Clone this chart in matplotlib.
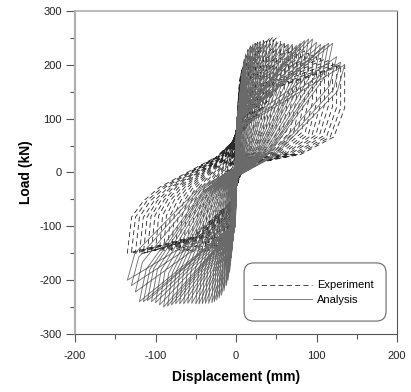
import matplotlib
matplotlib.use("Agg")
import matplotlib.pyplot as plt
from matplotlib.patches import FancyBboxPatch
from matplotlib.ticker import MultipleLocator

plt.rcParams['font.family'] = ['Liberation Sans', 'DejaVu Sans']
plt.rcParams['axes.unicode_minus'] = False

# Cycle amplitudes (mm)
amplitudes = [1, 2, 3, 4, 5, 6, 8, 10, 12, 15, 18, 21, 24, 27, 30, 34, 38, 42, 46,
              50, 55, 60, 65, 70, 75, 80, 85, 90, 95, 100, 105, 110, 115, 120, 125, 130, 135]

# Peak loads (kN) per cycle
exp_pos = [30, 60, 85, 110, 130, 150, 185, 205, 218, 228, 235, 238, 240, 242, 243, 245, 247, 250, 252,
           250, 245, 242, 238, 235, 232, 230, 226, 222, 218, 215, 212, 210, 208, 205, 202, 200, 200]
exp_neg = [-30, -55, -75, -90, -100, -108, -118, -125, -130, -135, -138, -140, -142, -143, -144, -145, -146, -147, -148,
           -148, -148, -148, -148, -147, -146, -145, -145, -145, -145, -145, -146, -148, -150, -152, -150, -150, -150]
ana_pos = [35, 65, 95, 120, 140, 160, 190, 210, 220, 228, 234, 238, 240, 240, 242, 242, 240, 242, 240,
           240, 238, 240, 236, 238, 236, 240, 245, 248, 248, 242, 238, 236, 240, 240, 215, 205, 200]
ana_neg = [-35, -65, -95, -120, -140, -158, -185, -200, -210, -220, -228, -233, -237, -240, -242, -243, -243, -244, -244,
           -244, -243, -243, -244, -244, -244, -246, -248, -250, -246, -242, -240, -238, -240, -240, -222, -210, -200]

# Loop shape templates (fractions of amplitude / peak): styling of the loops
exp_load_fx = [0.04, 0.40, 1.0]
exp_load_fy = [0.35, 0.80, 1.0]
exp_unl_pos_fx = [1.0, 0.90, 0.60, 0.25, 0.05]
exp_unl_pos_fy = [0.60, 0.33, 0.17, 0.10, 0.00]
exp_unl_neg_fx = [0.96, 0.85, 0.70, 0.45, 0.20]
exp_unl_neg_fy = [0.55, 0.35, 0.18, 0.00, -0.18]
ana_load_fx = [0.05, 1.0]
ana_load_fy = [0.42, 1.0]
ana_unl_fx = [0.93, 0.35, 0.02]
ana_unl_fy = [0.75, 0.15, -0.03]


def build_path(amps, pos, neg, lfx, lfy, upx, upy, unx, uny):
    xs, ys = [0.0], [0.0]
    for d, pp, pn in zip(amps, pos, neg):
        for sgn, pk, ufx, ufy in ((1, pp, upx, upy), (-1, pn, unx, uny)):
            for fx, fy in zip(lfx, lfy):
                xs.append(sgn * d * fx)
                ys.append(pk * fy)
            for fx, fy in zip(ufx, ufy):
                xs.append(sgn * d * fx)
                ys.append(pk * fy)
    return xs, ys


fig = plt.figure(figsize=(4.11, 3.92), dpi=100)
ax = fig.add_axes([0.1825, 0.148, 0.7835, 0.824])

ex, ey = build_path(amplitudes, exp_pos, exp_neg, exp_load_fx, exp_load_fy,
                    exp_unl_pos_fx, exp_unl_pos_fy, exp_unl_neg_fx, exp_unl_neg_fy)
axx, ayy = build_path(amplitudes, ana_pos, ana_neg, ana_load_fx, ana_load_fy,
                      ana_unl_fx, ana_unl_fy, ana_unl_fx, ana_unl_fy)

ax.plot(ex, ey, linestyle=(0, (6, 4)), color='#2a2a2a', linewidth=0.6, label='Experiment')
ax.plot(axx, ayy, linestyle='-', color='#6a6a6a', linewidth=0.6, label='Analysis')

ax.set_xlim(-200, 200)
ax.set_ylim(-300, 300)
ax.xaxis.set_major_locator(MultipleLocator(100))
ax.xaxis.set_minor_locator(MultipleLocator(50))
ax.yaxis.set_major_locator(MultipleLocator(100))
ax.yaxis.set_minor_locator(MultipleLocator(50))
ax.tick_params(axis='both', which='major', direction='out', width=0.8, color='#555555',
               labelsize=8, labelcolor='#222222')
ax.tick_params(axis='x', which='major', length=5.5, pad=7)
ax.tick_params(axis='y', which='major', length=6.5, pad=3)
ax.tick_params(axis='both', which='minor', direction='out', length=3.8, width=0.8, color='#555555')

ax.spines['left'].set_color('#b0b0b0')
ax.spines['left'].set_linewidth(1.6)
ax.spines['top'].set_color('#b0b0b0')
ax.spines['top'].set_linewidth(1.2)
ax.spines['right'].set_color('#555555')
ax.spines['right'].set_linewidth(0.8)
ax.spines['bottom'].set_color('#555555')
ax.spines['bottom'].set_linewidth(0.8)

ax.set_xlabel('Displacement (mm)', fontsize=10, fontweight='bold', labelpad=6)
ax.set_ylabel('Load (kN)', fontsize=10, fontweight='bold', labelpad=5)

box = FancyBboxPatch((0.525, 0.040), 0.441, 0.180, boxstyle='round,pad=0,rounding_size=0.03',
                     transform=ax.transAxes, facecolor='white', edgecolor='#666666', linewidth=0.8, zorder=5)
ax.add_patch(box)
leg = ax.legend(loc='center', bbox_to_anchor=(0.74, 0.128), frameon=False, fontsize=8,
                handlelength=5.3, handletextpad=0.5, labelspacing=0.4)
leg.set_zorder(6)

fig.savefig('out.png', dpi=100)
